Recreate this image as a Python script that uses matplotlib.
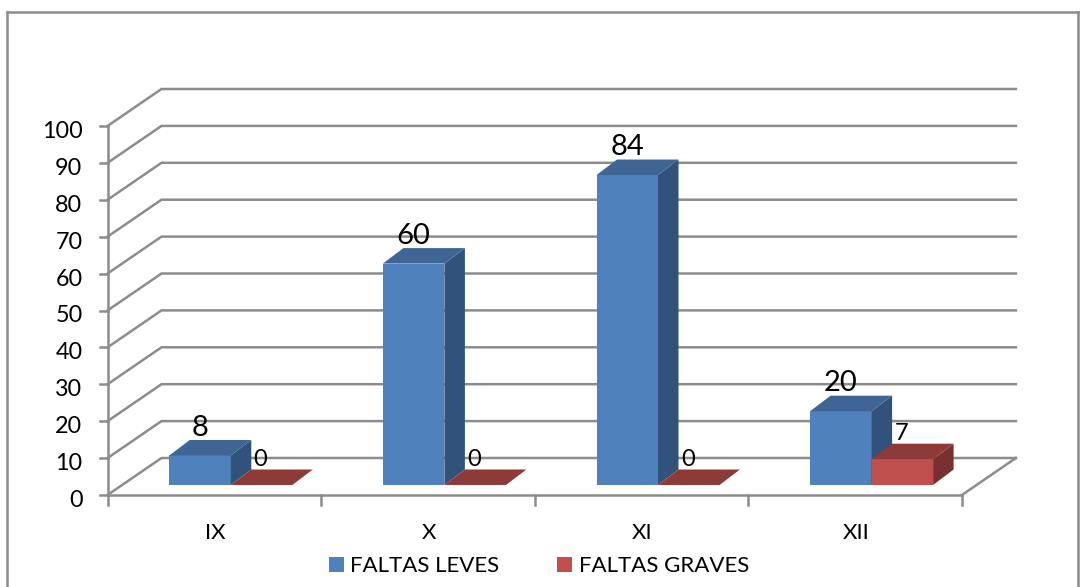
import matplotlib
matplotlib.use("Agg")
import matplotlib.pyplot as plt
from matplotlib.patches import Polygon, Patch
from matplotlib.lines import Line2D

categories = ["IX", "X", "XI", "XII"]
faltas_leves = [8, 60, 84, 20]
faltas_graves = [0, 0, 0, 7]
y_ticks = [0, 10, 20, 30, 40, 50, 60, 70, 80, 90, 100]

plt.rcParams["font.family"] = ["Lato", "DejaVu Sans"]
W, H = 1081, 587
fig = plt.figure(figsize=(W / 100, H / 100), dpi=100)
ax = fig.add_axes([0, 0, 1, 1])

# pixel calibration of the chart scales
X0, XUNIT = 107.5, 213.6
Y0, YUNIT = 495.0, 3.69
ax.set_xlim(-X0 / XUNIT, (W - X0) / XUNIT)
ax.set_ylim((Y0 - H) / YUNIT, Y0 / YUNIT)
ax.axis("off")

GRID = "#8c8c8c"
LW = 1.8
WALL_X, WALL_Y = 54.0 / XUNIT, 37 / YUNIT     # depth of the wall
BASE_X, BASE_Y = 16.5 / XUNIT, 10 / YUNIT     # bar front inside the floor
SIDE_X, SIDE_Y = 20.5 / XUNIT, 15.5 / YUNIT   # bar depth
BAR_W = 61.5 / XUNIT
n = len(categories)

# outer frame
for xs, ys in [((6.5, 6.5), (H, 11.5)), ((6.5, 1078), (11.5, 11.5)), ((1078, 1078), (11.5, H))]:
    fig.add_artist(Line2D([x / W for x in xs], [1 - y / H for y in ys], color="#8c8c8c", lw=1.8))

# gridlines and walls
for v in y_ticks:
    ax.plot([0, WALL_X, n + WALL_X], [v, v + WALL_Y, v + WALL_Y], color=GRID, lw=LW,
            solid_joinstyle="miter", zorder=1)
    ax.plot([-8 / XUNIT, 0], [v, v], color=GRID, lw=LW, zorder=1)
    ax.annotate(str(v), xy=(0, v), xytext=(-18, -2.5), textcoords="offset points",
                ha="right", va="center_baseline", fontsize=16.8, color="black")
ax.plot([0, 0], [0, y_ticks[-1]], color=GRID, lw=LW, zorder=1)
ax.plot([0, n], [0, 0], color=GRID, lw=LW, zorder=1)
ax.plot([n, n + WALL_X], [0, WALL_Y], color=GRID, lw=LW, zorder=1)
for i in range(n + 1):
    ax.plot([i, i], [0, -10 / YUNIT], color=GRID, lw=LW, zorder=1)
for i, c in enumerate(categories):
    ax.annotate(c, xy=(i + 0.5, 0), xytext=(0.7, -27.7), textcoords="offset points",
                ha="center", va="center", fontsize=16, color="black")


def bar3d(left, value, front, top, side, z):
    x0, x1 = left, left + BAR_W
    b, t = BASE_Y, BASE_Y + value
    if value > 0:
        ax.bar(x0, value, BAR_W, bottom=b, align="edge", color=front, zorder=z)
        ax.add_patch(Polygon([(x1, b), (x1 + SIDE_X, b + SIDE_Y), (x1 + SIDE_X, t + SIDE_Y), (x1, t)],
                             closed=True, facecolor=side, edgecolor="none", zorder=z))
    ax.add_patch(Polygon([(x0, t), (x0 + SIDE_X, t + SIDE_Y), (x1 + SIDE_X, t + SIDE_Y), (x1, t)],
                         closed=True, facecolor=top, edgecolor="none", zorder=z))


for i in range(n):
    center = i + 0.5 + BASE_X
    bar3d(center - BAR_W, faltas_leves[i], "#4F81BD", "#3E6594", "#31527B", 3)
    bar3d(center, faltas_graves[i], "#C0504D", "#8E3A38", "#7A302E", 4)
    ax.annotate(str(faltas_leves[i]), xy=(center - BAR_W / 2, BASE_Y + faltas_leves[i]),
                xytext=(0, 20), textcoords="offset points", ha="center", va="center",
                fontsize=21, color="black", zorder=6)
    ax.annotate(str(faltas_graves[i]), xy=(center + BAR_W / 2, BASE_Y + faltas_graves[i]),
                xytext=(-0.7, 18.5), textcoords="offset points", ha="center", va="center",
                fontsize=17, color="black", zorder=6)

handles = [Patch(facecolor="#4F81BD", label="FALTAS LEVES"),
           Patch(facecolor="#C0504D", label="FALTAS GRAVES")]
ax.legend(handles=handles, loc="center", bbox_to_anchor=(539 / W, 1 - 566.5 / H),
          bbox_transform=fig.transFigure, ncol=2, frameon=False, fontsize=16,
          handlelength=0.68, handleheight=0.68, handletextpad=0.3, columnspacing=2.6,
          labelcolor="black")

fig.savefig("out.png", dpi=100)
